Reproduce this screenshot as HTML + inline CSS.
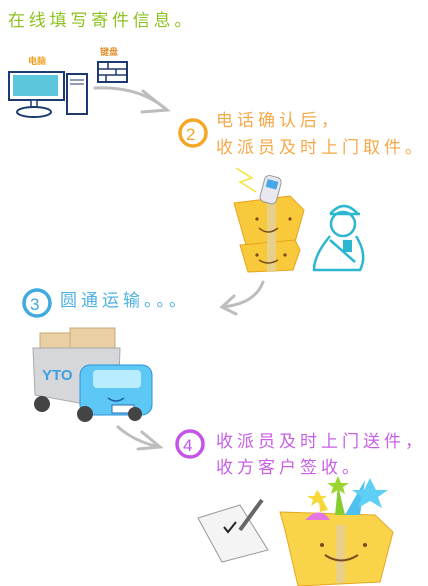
<!DOCTYPE html>
<html><head><meta charset="utf-8"><style>
html,body{margin:0;padding:0;background:#fff;}
body{width:428px;height:586px;position:relative;overflow:hidden;font-family:"Liberation Sans","Noto Sans CJK SC",sans-serif;}
.t{position:absolute;white-space:nowrap;font-family:"Liberation Sans","Noto Sans CJK SC",sans-serif;font-size:17px;letter-spacing:4px;line-height:20px;}
</style></head><body>
<div class="t" style="left:8px;top:11px;color:#8cc21f;letter-spacing:3.8px;">在线填写寄件信息。</div>
<div class="t" style="left:216px;top:111px;color:#f7a94a;">电话确认后，</div>
<div class="t" style="left:216px;top:138px;color:#f7a94a;">收派员及时上门取件。</div>
<div class="t" style="left:60px;top:291px;color:#4fb0e3;">圆通运输。。。</div>
<div class="t" style="left:216px;top:432px;color:#c95fe6;">收派员及时上门送件，</div>
<div class="t" style="left:216px;top:458px;color:#c95fe6;">收方客户签收。</div>
<div class="t" style="left:28px;top:56px;color:#f0a020;font-size:9px;letter-spacing:0;font-weight:bold;line-height:10px;">电脑</div>
<div class="t" style="left:100px;top:47px;color:#e08a20;font-size:9px;letter-spacing:0;font-weight:bold;line-height:10px;">键盘</div>
<svg width="428" height="586" style="position:absolute;left:0;top:0" xmlns="http://www.w3.org/2000/svg">
<rect x="9" y="72" width="55" height="28" fill="#fff" stroke="#1d3a70" stroke-width="2"/>
<rect x="13" y="75" width="45" height="21" fill="#5cc6dd"/>
<rect x="31" y="100" width="6" height="8" fill="#fff" stroke="#1d3a70" stroke-width="1.5"/>
<ellipse cx="34" cy="112" rx="17" ry="5" fill="#fff" stroke="#1d3a70" stroke-width="2"/>
<rect x="67" y="74" width="20" height="40" fill="#fff" stroke="#1d3a70" stroke-width="2"/>
<line x1="70" y1="80" x2="84" y2="80" stroke="#1d3a70"/><line x1="70" y1="84" x2="84" y2="84" stroke="#1d3a70"/>
<rect x="98" y="62" width="29" height="20" fill="#fff" stroke="#1d3a70" stroke-width="2"/>
<path d="M98 69h29M98 75h29M108 62v7M116 69v6M106 75v7" stroke="#1d3a70" stroke-width="1.5"/>
<g fill="none" stroke="#bdbdbd" stroke-width="3" stroke-linecap="round">
<path d="M95 88 Q140 86 167 110"/><path d="M143 91 L167 110 L142 112"/>
<path d="M263 282 Q255 304 222 307"/><path d="M234 296 L222 307 L236 314"/>
<path d="M118 427 Q135 442 160 447"/><path d="M142 432 L160 447 L138 449"/>
</g>
<g fill="none" stroke-width="3.5">
<circle cx="193" cy="133" r="13" stroke="#f5a623"/><circle cx="37" cy="303" r="13" stroke="#3fa9e0"/><circle cx="190" cy="444" r="13" stroke="#c653e8"/>
</g>
<text x="186" y="140" font-size="17" fill="#f5a623" font-family="Liberation Sans">2</text>
<text x="30" y="310" font-size="17" fill="#3fa9e0" font-family="Liberation Sans">3</text>
<text x="183" y="451" font-size="17" fill="#c653e8" font-family="Liberation Sans">4</text>
<polygon points="234,203 290,196 304,210 295,242 246,245" fill="#f9c93c" stroke="#e8a21a"/>
<polygon points="240,245 295,240 300,250 293,270 248,272" fill="#f9c93c" stroke="#e8a21a"/>
<rect x="267" y="196" width="9" height="76" fill="#e8cf8a"/>
<path d="M259 228 Q268 236 278 228M259 260 Q268 266 278 260" stroke="#7a4a20" stroke-width="1.5" fill="none"/>
<circle cx="257" cy="219" r="1.6" fill="#7a4a20"/><circle cx="290" cy="219" r="1.6" fill="#7a4a20"/>
<circle cx="257" cy="255" r="1.6" fill="#7a4a20"/><circle cx="285" cy="255" r="1.6" fill="#7a4a20"/>
<rect x="262" y="176" width="17" height="27" rx="5" fill="#e8e8ee" stroke="#999" transform="rotate(15 270 190)"/>
<rect x="265" y="180" width="11" height="8" fill="#48a8e6" transform="rotate(15 270 190)"/>
<path d="M236 168 L252 178 L240 182 L256 192" stroke="#f5e23a" fill="none" stroke-width="1.5"/>
<g fill="none" stroke="#2cb7d0" stroke-width="2.5">
<path d="M330 214 Q344 198 358 214"/><path d="M330 214 L360 214"/>
<circle cx="343" cy="224" r="12"/>
<path d="M330 236 Q314 255 314 270 L360 270 Q368 255 356 236"/>
<path d="M330 240 L355 262"/>
</g>
<rect x="343" y="240" width="9" height="12" fill="#2cb7d0"/>
<rect x="40" y="333" width="30" height="20" fill="#e8cfa4" stroke="#c9a878"/>
<rect x="70" y="328" width="45" height="25" fill="#e8cfa4" stroke="#c9a878"/>
<polygon points="33,348 120,348 118,410 35,395" fill="#d5d7da" stroke="#aaa"/>
<text x="42" y="380" font-size="15" font-weight="bold" fill="#3c9fe0" font-family="Liberation Sans">YTO</text>
<rect x="80" y="365" width="72" height="50" rx="10" fill="#5dc7f5" stroke="#2b91d6"/>
<rect x="93" y="370" width="48" height="18" rx="4" fill="#b9ecff"/>
<path d="M108 398 Q116 404 124 398" stroke="#1d5fa8" fill="none" stroke-width="1.5"/>
<rect x="112" y="405" width="22" height="8" fill="#fff" stroke="#2b6cb0"/>
<circle cx="42" cy="404" r="8" fill="#444"/><circle cx="85" cy="414" r="8" fill="#444"/><circle cx="135" cy="414" r="7" fill="#444"/>
<polygon points="198,518 240,505 268,550 222,562" fill="#f4f4f4" stroke="#999"/>
<path d="M224 527 l4 5 l8 -10" stroke="#222" stroke-width="2" fill="none"/>
<line x1="240" y1="530" x2="262" y2="500" stroke="#666" stroke-width="4"/>
<polygon points="280,512 375,515 393,532 380,582 298,586 285,530" fill="#f9d34a" stroke="#e5a820"/>
<rect x="336" y="525" width="9" height="58" fill="#e8cf8a"/>
<path d="M325 555 Q341 566 358 555" stroke="#7a4a20" stroke-width="2" fill="none"/>
<circle cx="322" cy="545" r="2" fill="#7a4a20"/><circle cx="365" cy="545" r="2" fill="#7a4a20"/>
<path d="M305 520 Q320 505 330 520" fill="#e577e0"/>
<path d="M320 512 L318 490 L328 510Z" fill="#f7d83a"/>
<path d="M335 515 L338 485 L345 515Z" fill="#88cc33"/>
<path d="M345 515 L365 480 L360 515Z" fill="#4fc1f0"/>
<polygon points="370,478 376,490 388,490 378,497 382,508 370,501 358,508 362,497 352,490 364,490" fill="#5ecff5"/>
<polygon points="338,476 341,483 349,483 343,487 345,494 338,490 331,494 333,487 327,483 335,483" fill="#9bd630"/>
<polygon points="317,490 320,496 327,496 321,500 323,506 317,502 311,506 313,500 307,496 314,496" fill="#f7d83a"/>
</svg>
</body></html>
